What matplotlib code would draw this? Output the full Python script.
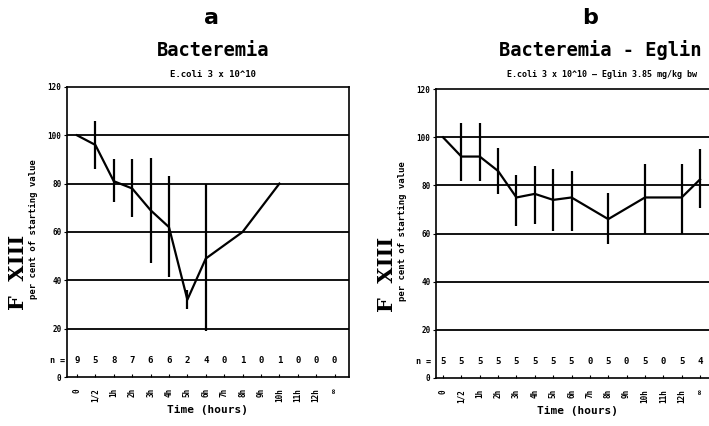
import matplotlib.pyplot as plt

# -------------------------------
# Data
# -------------------------------
tick_labels = ["0", "1/2", "1h", "2h", "3h", "4h", "5h", "6h", "7h", "8h",
               "9h", "10h", "11h", "12h", "\u221e"]

# panel a: Bacteremia
a_x = [0, 1, 2, 3, 4, 5, 6, 7, 9, 11]
a_y = [100, 96, 81, 78, 69, 62, 32, 49, 60, 80]
a_err_x = [1, 2, 3, 4, 5, 6, 7]
a_err_lo = [86, 72.5, 66, 47, 41.5, 28, 19]
a_err_hi = [106, 90, 90, 90.5, 83, 36, 80]
a_n = [9, 5, 8, 7, 6, 6, 2, 4, 0, 1, 0, 1, 0, 0, 0]

# panel b: Bacteremia - Eglin
b_x = [0, 1, 2, 3, 4, 5, 6, 7, 9, 11, 13, 14]
b_y = [100, 92, 92, 86, 75, 76.5, 74, 75, 66, 75, 75, 82.5]
b_err_x = [1, 2, 3, 4, 5, 6, 7, 9, 11, 13, 14]
b_err_lo = [82, 82, 76.5, 63, 64, 61, 61, 55.5, 60, 60, 70.5]
b_err_hi = [106, 106, 95.5, 84.5, 88, 87, 86, 77, 88.7, 89, 95]
b_n = [5, 5, 5, 5, 5, 5, 5, 5, 0, 5, 0, 5, 0, 5, 4]

FONT = "DejaVu Sans Mono"

# -------------------------------
# Plot setup
# -------------------------------
fig = plt.figure(figsize=(7.09, 4.26), dpi=100)
ax_a = fig.add_axes([0.0945, 0.115, 0.3977, 0.681])
ax_b = fig.add_axes([0.615, 0.1127, 0.3977, 0.678])


def draw_panel(ax, xs, ys, ex, elo, ehi, ns, xlim):
    ax.plot(xs, ys, color="black", linewidth=1.6, zorder=3)
    ax.vlines(ex, elo, ehi, color="black", linewidth=1.6, zorder=3)
    for y in [20, 40, 60, 80, 100]:
        ax.axhline(y, color="black", linewidth=1.3, zorder=1)
    for i, n in enumerate(ns):
        ax.text(i, 7, str(n), ha="center", va="center", fontsize=6.5,
                fontweight="bold", family=FONT)
    ax.text(-0.65, 7, "n =", ha="right", va="center", fontsize=6,
            fontweight="bold", family=FONT, clip_on=False)
    ax.set_xlim(*xlim)
    ax.set_ylim(0, 120)
    ax.set_yticks([0, 20, 40, 60, 80, 100, 120])
    ax.set_yticklabels(["0", "20", "40", "60", "80", "100", "120"],
                       fontsize=5.5, fontweight="bold", family=FONT)
    ax.set_xticks(range(len(tick_labels)))
    ax.set_xticklabels(tick_labels, rotation=90, fontsize=5.5,
                       fontweight="bold", family=FONT)
    ax.tick_params(axis="x", direction="in", length=2, pad=8)
    ax.tick_params(axis="y", direction="out", length=2, pad=2)
    for s in ax.spines.values():
        s.set_linewidth(1.2)
    ax.set_xlabel("Time (hours)", fontsize=8, fontweight="bold",
                  family=FONT, labelpad=2)
    # y-axis label: big "F XIII" plus small description
    ax.text(-0.175, 0.36, "F  XIII", transform=ax.transAxes, rotation=90,
            ha="center", va="center", fontsize=15, fontweight="bold",
            family="DejaVu Serif")
    ax.text(-0.118, 0.51, "per cent of starting value", transform=ax.transAxes,
            rotation=90, ha="center", va="center", fontsize=6.5,
            fontweight="bold", family=FONT)


draw_panel(ax_a, a_x, a_y, a_err_x, a_err_lo, a_err_hi, a_n, (-0.54, 14.78))
draw_panel(ax_b, b_x, b_y, b_err_x, b_err_lo, b_err_hi, b_n, (-0.38, 14.98))

# -------------------------------
# Titles
# -------------------------------
fig.text(0.299, 0.958, "a", ha="center", va="center", fontsize=16,
         fontweight="bold", family="DejaVu Sans")
fig.text(0.300, 0.882, "Bacteremia", ha="center", va="center", fontsize=13.5,
         fontweight="bold", family=FONT)
fig.text(0.300, 0.824, "E.coli 3 x 10^10", ha="center", va="center",
         fontsize=6.5, fontweight="bold", family=FONT)

fig.text(0.832, 0.958, "b", ha="center", va="center", fontsize=16,
         fontweight="bold", family="DejaVu Sans")
fig.text(0.846, 0.882, "Bacteremia - Eglin", ha="center", va="center",
         fontsize=13.5, fontweight="bold", family=FONT)
fig.text(0.849, 0.824, "E.coli 3 x 10^10 \u2014 Eglin 3.85 mg/kg bw",
         ha="center", va="center", fontsize=6, fontweight="bold", family=FONT)

fig.savefig("out.png", dpi=100)
